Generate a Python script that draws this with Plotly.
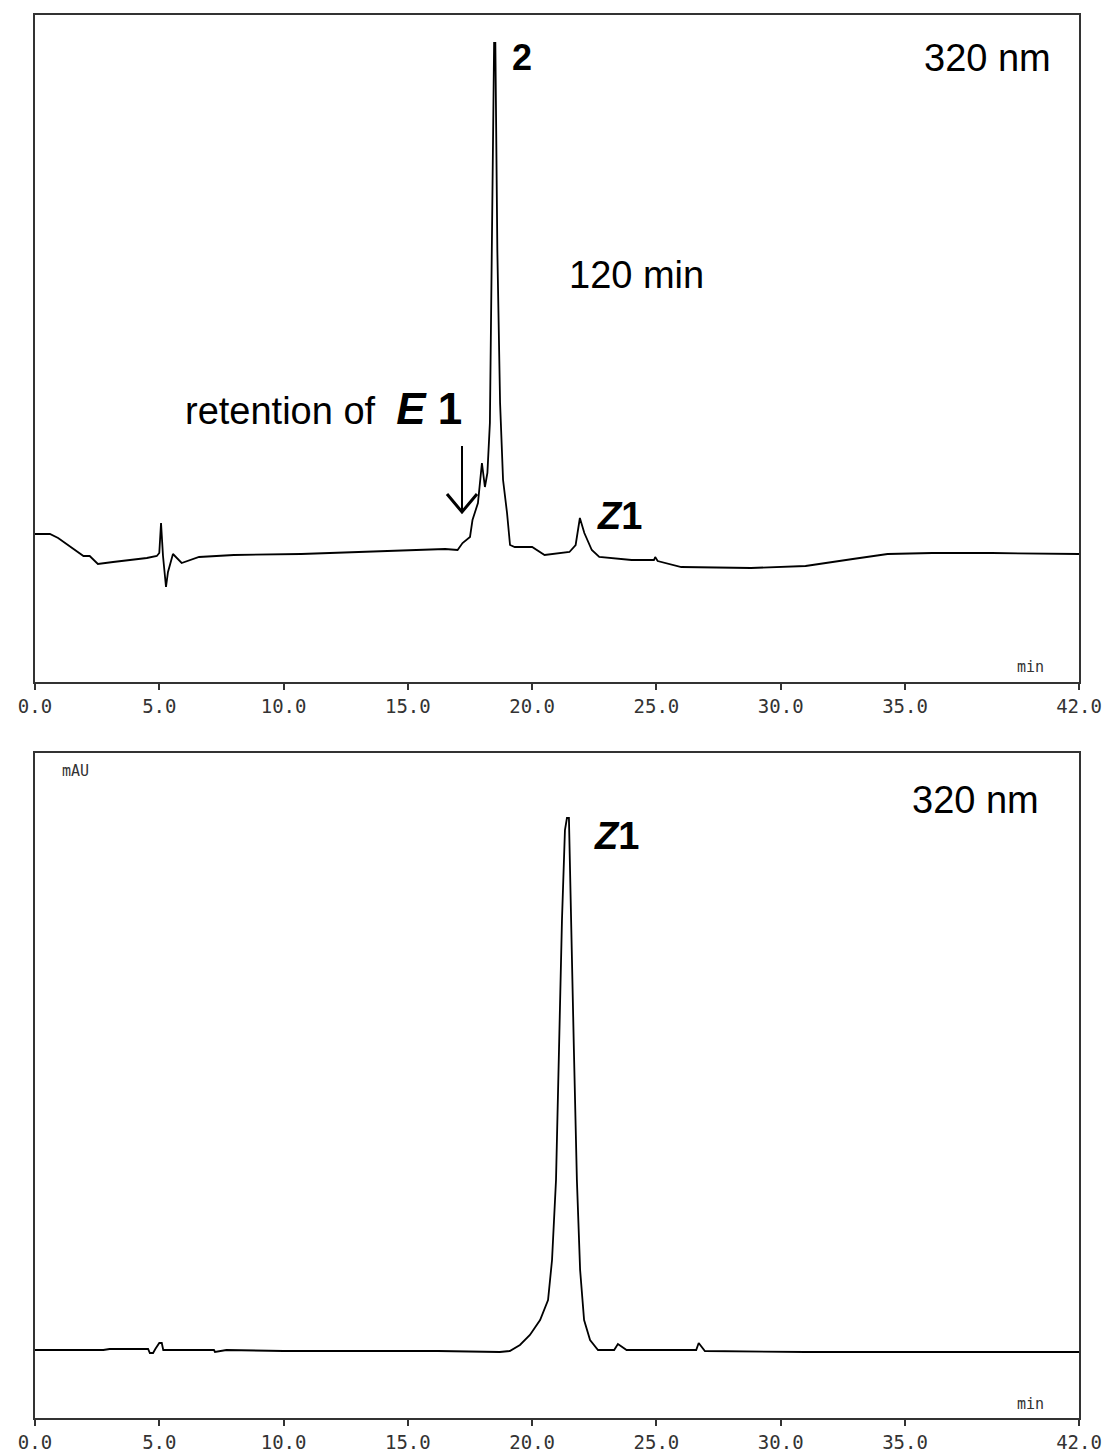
import plotly.graph_objects as go

W, H = 1109, 1456

# ---- Top chromatogram (120 min), time in min, signal in mAU (arbitrary) ----
top_time = [0.0, 0.6, 0.93, 1.95, 2.2, 2.53, 3.14, 4.5, 4.9, 5.0, 5.07, 5.15, 5.27, 5.35,
            5.55, 5.9, 6.6, 8.0, 10.7, 13.0, 15.0, 16.5, 17.0, 17.2, 17.5, 17.6, 17.82,
            17.98, 18.1, 18.2, 18.3, 18.38, 18.47, 18.52, 18.6, 18.71, 18.83, 18.99,
            19.11, 19.3, 20.0, 20.5, 21.5, 21.75, 21.92, 22.1, 22.4, 22.7, 24.0, 24.9,
            24.95, 25.05, 26.0, 28.8, 31.0, 32.9, 34.3, 36.1, 38.5, 42.0]
top_signal = [5.2, 5.2, 4.4, 0.8, 0.8, -0.8, -0.4, 0.4, 0.8, 1.4, 7.4, 0.8, -5.4, -2.4,
              1.2, -0.6, 0.6, 1.0, 1.2, 1.6, 2.0, 2.2, 2.0, 3.4, 4.6, 8.0, 11.4,
              19.4, 14.6, 17.4, 27.4, 62.0, 103.4, 103.4, 62.0, 31.4, 16.0, 9.4,
              3.0, 2.6, 2.6, 1.0, 1.6, 3.0, 8.4, 5.4, 2.0, 0.6, 0.0, 0.0,
              0.6, -0.2, -1.4, -1.6, -1.2, 0.2, 1.2, 1.4, 1.4, 1.2]

# ---- Bottom chromatogram (Z1 standard) ----
bot_time = [0.0, 2.75, 3.0, 4.55, 4.62, 4.75, 4.84, 5.0, 5.1, 5.16, 7.2, 7.24, 7.7, 10.0,
            13.0, 16.2, 18.7, 19.1, 19.51, 19.91, 20.32, 20.64, 20.8, 20.96, 21.08,
            21.2, 21.32, 21.4, 21.48, 21.56, 21.68, 21.8, 21.93, 22.09, 22.33, 22.65,
            23.3, 23.45, 23.8, 26.6, 26.7, 26.95, 30.0, 31.0, 42.0]
bot_signal = [0.4, 0.4, 0.6, 0.6, -0.2, -0.2, 0.6, 1.8, 1.8, 0.4, 0.4, 0.0, 0.4, 0.2,
              0.2, 0.2, 0.0, 0.2, 1.4, 3.4, 6.4, 10.4, 18.4, 34.4, 60.4,
              86.4, 104.4, 106.8, 106.8, 90.4, 60.4, 34.4, 16.4, 6.4, 2.4, 0.4,
              0.4, 1.6, 0.4, 0.4, 1.8, 0.2, 0.0, 0.0, 0.0]

x_ticks = [0, 5, 10, 15, 20, 25, 30, 35, 42]
x_tick_labels = ["0.0", "5.0", "10.0", "15.0", "20.0", "25.0", "30.0", "35.0", "42.0"]

# pixel helpers for layout placement
def px(x):
    return x / W

def py(y):
    return 1 - y / H

fig = go.Figure()
fig.add_trace(go.Scatter(x=top_time, y=top_signal, mode="lines",
                         line=dict(color="black", width=1.8), xaxis="x", yaxis="y",
                         showlegend=False, hoverinfo="skip"))
fig.add_trace(go.Scatter(x=bot_time, y=bot_signal, mode="lines",
                         line=dict(color="black", width=1.8), xaxis="x2", yaxis="y2",
                         showlegend=False, hoverinfo="skip"))

xdom = [px(35), px(1079)]
axis_common = dict(range=[0, 42], tickvals=x_ticks, ticktext=x_tick_labels,
                   ticks="outside", ticklen=6, tickwidth=1.5, tickcolor="#333",
                   showline=True, linecolor="#333", linewidth=2, mirror=True,
                   showgrid=False, zeroline=False, automargin=False,
                   tickfont=dict(family="DejaVu Sans Mono", size=19, color="#333"),
                   domain=xdom)
yaxis_common = dict(showline=True, linecolor="#333", linewidth=2, mirror=True,
                    showgrid=False, zeroline=False, showticklabels=False, ticks="",
                    automargin=False)

# top: pixel 682 -> value (560-682)/5, pixel 15 -> (560-15)/5
top_range = [(560 - 682) / 5, (560 - 15) / 5]
bot_range = [(1352 - 1418) / 5, (1352 - 753) / 5]

fig.update_layout(
    width=W, height=H, margin=dict(l=0, r=0, t=0, b=0, pad=0),
    paper_bgcolor="white", plot_bgcolor="white",
    xaxis=dict(**axis_common, anchor="y"),
    yaxis=dict(**yaxis_common, range=top_range, domain=[py(682), py(15)], anchor="x"),
    xaxis2=dict(**axis_common, anchor="y2"),
    yaxis2=dict(**yaxis_common, range=bot_range, domain=[py(1418), py(753)], anchor="x2"),
)

big = dict(family="Liberation Sans, Arial", size=38, color="black")
num = dict(family="Liberation Sans, Arial", size=36, color="black")
small_pix = dict(family="DejaVu Sans Mono", size=15, color="#333")

def label(x, y, text, font, xanchor="center"):
    fig.add_annotation(x=px(x), y=py(y), xref="paper", yref="paper", text=text,
                       showarrow=False, font=font, xanchor=xanchor, yanchor="middle")

label(987, 58, "320 nm", big)
label(522, 58, "<b>2</b>", num)
label(636, 275, "120 min", big)
label(183, 408, "retention of  <span style='font-size:44px'><b><i>E</i> 1</b></span>",
      big, xanchor="left")
label(619, 516, "<b><i>Z</i>1</b>", big)
label(1030, 667, "min", small_pix)

label(60, 771, "mAU", small_pix, xanchor="left")
label(975, 800, "320 nm", big)
label(616, 836, "<b><i>Z</i>1</b>", big)
label(1030, 1404, "min", small_pix)

# arrow indicating retention of E1
fig.add_shape(type="path", xref="paper", yref="paper",
              path=f"M {px(462)},{py(446)} L {px(462)},{py(511)}",
              line=dict(color="black", width=2))
fig.add_shape(type="path", xref="paper", yref="paper",
              path=f"M {px(447)},{py(494)} L {px(462)},{py(512)} L {px(477)},{py(494)}",
              line=dict(color="black", width=3))

fig.write_html("out.html")
